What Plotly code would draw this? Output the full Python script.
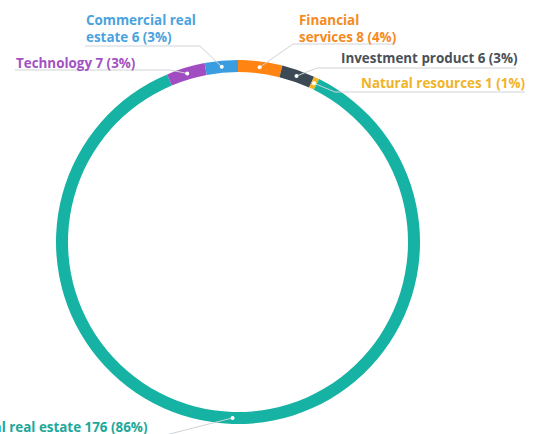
import math
import plotly.graph_objects as go

# ---- data ----
categories = ["Financial services", "Investment product", "Natural resources",
              "Residential real estate", "Technology", "Commercial real estate"]
values = [8, 6, 1, 176, 7, 6]
percent_labels = ["4%", "3%", "1%", "86%", "3%", "3%"]
slice_colors = ["#ff8412", "#3b4a54", "#f2b526", "#16b2a3", "#a14dc2", "#3a9de0"]
text_colors = ["#f58a22", "#4a5159", "#f0b429", "#1aa89a", "#a352c4", "#4aa3df"]
label_texts = ["Financial<br>services 8 (4%)", "Investment product 6 (3%)",
               "Natural resources 1 (1%)", "Residential real estate 176 (86%)",
               "Technology 7 (3%)", "Commercial real<br>estate 6 (3%)"]

W, H = 534, 434
CX, CY, R, THICK = 238, 242, 182, 12

def px(x):
    return x / W

def py(y):
    return 1 - y / H

fig = go.Figure(go.Pie(
    labels=categories, values=values, sort=False, direction="clockwise",
    hole=(R - THICK) / R, marker=dict(colors=slice_colors, line=dict(width=0)),
    textinfo="none", hoverinfo="label+value+percent", showlegend=False,
    domain=dict(x=[px(CX - R), px(CX + R)], y=[py(CY + R), py(CY - R)]),
))

# label layout: text x, text y, anchor, underline (x_far, x_near, y)
label_layout = [
    dict(x=297, y=29, anchor="left", ul=(395, 293, 44)),
    dict(x=339, y=58, anchor="left", ul=(516, 317, 68)),
    dict(x=359, y=83, anchor="left", ul=(525, 335, 92)),
    dict(x=149, y=427, anchor="right", ul=(-10, 158, 437)),
    dict(x=14, y=63, anchor="left", ul=(15, 170, 70)),
    dict(x=84, y=29, anchor="left", ul=(85, 200, 46)),
]

total = sum(values)
cum = 0
shapes = []
annotations = []
rmid = R - THICK / 2
for i, v in enumerate(values):
    mid = (cum + v / 2) / total * 2 * math.pi
    cum += v
    dx = CX + rmid * math.sin(mid)
    dy = CY - rmid * math.cos(mid)
    lay = label_layout[i]
    xf, xn, yu = lay["ul"]
    shapes.append(dict(type="path", xref="paper", yref="paper",
                       path=f"M {px(xf)} {py(yu)} L {px(xn)} {py(yu)} L {px(dx)} {py(dy)}",
                       line=dict(color="#cfd3d6", width=1)))
    shapes.append(dict(type="circle", xref="paper", yref="paper",
                       x0=px(dx - 2), x1=px(dx + 2), y0=py(dy + 2), y1=py(dy - 2),
                       fillcolor="white", line=dict(width=0)))
    annotations.append(dict(x=px(lay["x"]), y=py(lay["y"]), xref="paper", yref="paper",
                            text=f"<b>{label_texts[i]}</b>", showarrow=False,
                            xanchor=lay["anchor"], yanchor="middle", align="left",
                            font=dict(family="Open Sans", size=13.4, color=text_colors[i])))

fig.update_layout(width=W, height=H, margin=dict(l=0, r=0, t=0, b=0),
                  paper_bgcolor="white", plot_bgcolor="white",
                  shapes=shapes, annotations=annotations)
fig.write_html("out.html")
